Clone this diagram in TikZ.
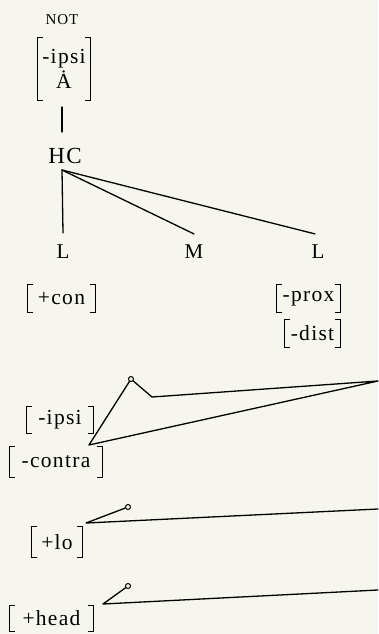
\documentclass[tikz,border=0pt]{standalone}
\usepackage{fontspec}
\setmainfont{Liberation Serif}
\newfontfamily\widefont[LetterSpace=6]{Liberation Serif}
\begin{document}
\begin{tikzpicture}[x=1pt,y=-1pt,
  lab/.style={font=\widefont\fontsize{21}{25}\selectfont, inner sep=0pt},
  feat/.style={font=\widefont\fontsize{21.5}{25}\selectfont, inner sep=0pt, minimum height=27pt},
  ln/.style={line width=1.3pt, line cap=round, line join=round},
  brk/.style={line width=1pt},
  knob/.style={circle, draw, line width=1pt, inner sep=0pt, minimum size=5pt}]
\useasboundingbox[fill={rgb,255:red,246;green,246;blue,238}] (0,0) rectangle (378,634);

\node[font=\widefont\fontsize{15}{17}\selectfont, inner sep=0pt] (not) at (62,20) {NOT};
\node[feat, minimum width=52pt, minimum height=62pt, align=center] (top) at (64,69) {-ipsi\\\.{A}};
\coordinate (t1) at (62,107);
\coordinate (t2) at (62,132);
\draw[ln] (t1) -- (t2);

\node[lab, font=\widefont\fontsize{23}{27}\selectfont] (hc) at (65,156) {HC};
\coordinate (hcb) at (62,170);
\node[lab] (l1) at (63,252) {L};
\node[lab] (m) at (194,252) {M};
\node[lab] (l2) at (318,252) {L};
\draw[ln] (hcb) -- ([yshift=12pt]l1.north);
\draw[ln] (hcb) -- ([yshift=11pt]m.north);
\draw[ln] (hcb) -- ([shift={(-3pt,11pt)}]l2.north);

\node[feat, minimum width=67pt] (con) at (61.5,298.5) {+con};
\node[feat, minimum width=63pt] (prox) at (308.5,298.5) {-prox};
\node[feat, minimum width=55pt] (dist) at (312.5,333.5) {-dist};
\node[feat, minimum width=66pt] (ipsi) at (60,420) {-ipsi};
\node[feat, minimum width=92pt, minimum height=30pt] (contra) at (56,462) {-contra};
\node[feat, minimum width=50pt, minimum height=30pt] (lo) at (57,542) {+lo};
\node[feat, minimum width=83pt, minimum height=25pt] (head) at (51.5,618.5) {+head};

\foreach \n in {top,con,prox,dist,ipsi,contra,lo,head}
  \draw[brk] ([xshift=5pt]\n.north west) -- (\n.north west) -- (\n.south west) -- ([xshift=5pt]\n.south west)
             ([xshift=-5pt]\n.north east) -- (\n.north east) -- (\n.south east) -- ([xshift=-5pt]\n.south east);

\node[knob] (k1) at (131,379) {};
\coordinate (c1) at (89,445);
\coordinate (v1) at (152,397);
\coordinate (e1) at (378,381);
\draw[ln] (c1) -- (k1) -- (v1) -- (e1) -- (c1);

\node[knob] (k2) at (128,507) {};
\coordinate (p2) at (86,523);
\coordinate (e2) at (378,509);
\draw[ln] (k2) -- (p2) -- (e2);

\node[knob] (k3) at (128,586) {};
\coordinate (p3) at (103,604);
\coordinate (e3) at (378,590);
\draw[ln] (k3) -- (p3) -- (e3);
\end{tikzpicture}
\end{document}
